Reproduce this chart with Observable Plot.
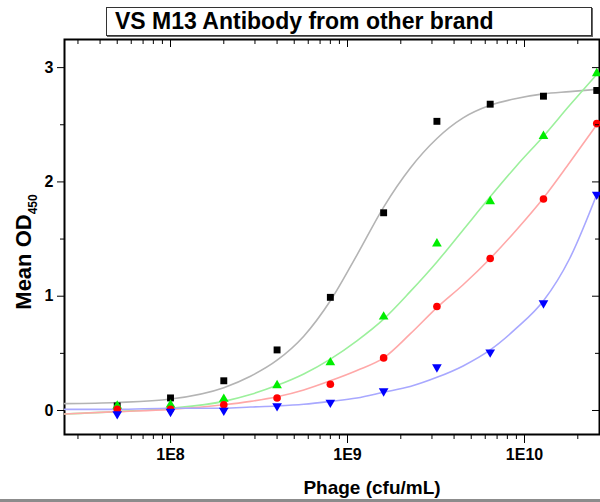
<!DOCTYPE html>
<html>
<head>
<meta charset="utf-8">
<script src="https://cdn.jsdelivr.net/npm/d3@7"></script>
<script src="https://cdn.jsdelivr.net/npm/@observablehq/plot@0.6"></script>
<style>
  body { margin: 0; background: #fff; }
  #wrap { position: relative; width: 600px; height: 502px; overflow: hidden; font-family: "Liberation Sans", Arial, sans-serif; }
  #title { position: absolute; left: 106px; top: 7px; width: 486px; height: 29px; box-sizing: border-box;
           border: 1px solid #333; box-shadow: 1px 1px 0 #666; background: #fff; font-weight: bold;
           font-size: 23px; line-height: 27px; padding-left: 8px; white-space: nowrap; color: #000; }
  #rule { position: absolute; left: 0; top: 499px; width: 600px; height: 3px; background: #8c8c8c; }
</style>
</head>
<body>
<div id="wrap">
  <div id="chart"></div>
  <div id="title">VS M13 Antibody from other brand</div>
  <div id="rule"></div>
</div>
<script>
// Measured points (phage concentration, cfu/mL)
const dose = [5e7, 1e8, 2e8, 4e8, 8e8, 1.6e9, 3.2e9, 6.4e9, 1.28e10, 2.56e10];
const odBlack = [0.04, 0.11, 0.26, 0.53, 0.99, 1.73, 2.53, 2.68, 2.75, 2.80];
const odGreen = [0.04, 0.05, 0.10, 0.22, 0.42, 0.82, 1.46, 1.83, 2.40, 2.95];
const odRed   = [0.01, 0.01, 0.05, 0.11, 0.23, 0.46, 0.91, 1.33, 1.85, 2.51];
const odBlue  = [-0.03, -0.01, 0.00, 0.04, 0.07, 0.17, 0.38, 0.51, 0.94, 1.89];

// Fitted curves
const fitDose  = [2.52e7, 5e7, 1e8, 2e8, 2.83e8, 4e8, 5.66e8, 8e8, 1.13e9, 1.6e9, 2.26e9, 3.2e9, 4.5e9, 6.4e9, 9e9, 1.28e10, 1.8e10, 2.56e10];
const fitBlack = [0.06, 0.07, 0.10, 0.20, 0.30, 0.44, 0.65, 0.96, 1.36, 1.78, 2.12, 2.38, 2.56, 2.67, 2.73, 2.77, 2.79, 2.81];
const fitGreen = [-0.03, -0.01, 0.02, 0.08, 0.14, 0.22, 0.32, 0.45, 0.61, 0.80, 1.04, 1.30, 1.58, 1.87, 2.14, 2.40, 2.67, 2.94];
const fitRed   = [-0.03, -0.01, 0.01, 0.05, 0.08, 0.12, 0.18, 0.26, 0.35, 0.46, 0.67, 0.90, 1.10, 1.33, 1.58, 1.86, 2.17, 2.50];
const fitBlue  = [0.01, 0.01, 0.02, 0.02, 0.03, 0.04, 0.055, 0.08, 0.11, 0.16, 0.21, 0.29, 0.39, 0.53, 0.72, 0.96, 1.33, 1.89];

// Axis ticks
const xMajor = [1e8, 1e9, 1e10];
const xTickLabels = ["1E8", "1E9", "1E10"];
const xMinor = [3e7, 4e7, 5e7, 6e7, 7e7, 8e7, 9e7, 2e8, 3e8, 4e8, 5e8, 6e8, 7e8, 8e8, 9e8,
                2e9, 3e9, 4e9, 5e9, 6e9, 7e9, 8e9, 9e9, 2e10];
const yMajor = [0, 1, 2, 3];
const yMinor = [0.5, 1.5, 2.5];

const series = [
  {key: "black", od: odBlack, fit: fitBlack, fill: "#000000", line: "#b4b4b4", symbol: "square", r: 3.9, rotate: 0},
  {key: "green", od: odGreen, fit: fitGreen, fill: "#00ee00", line: "#9cf09c", symbol: "triangle", r: 3.6, rotate: 0},
  {key: "red",   od: odRed,   fit: fitRed,   fill: "#ff0000", line: "#ffa8a8", symbol: "circle", r: 3.8, rotate: 0},
  {key: "blue",  od: odBlue,  fit: fitBlue,  fill: "#0000ff", line: "#a8a8ff", symbol: "triangle", r: 3.6, rotate: 180}
];

const marks = [Plot.frame({stroke: "black", strokeWidth: 2})];
for (const s of series) {
  const fitRows = fitDose.map((x, i) => ({x, y: s.fit[i]}));
  marks.push(Plot.line(fitRows, {x: "x", y: "y", stroke: s.line, strokeWidth: 1.6, curve: "monotone-x"}));
}
for (const s of series) {
  const rows = dose.map((x, i) => ({x, y: s.od[i]}));
  marks.push(Plot.dot(rows, {x: "x", y: "y", fill: s.fill, stroke: "none", symbol: s.symbol, r: s.r, rotate: s.rotate}));
}
marks.push(
  Plot.axisX({ticks: xMajor, tickSize: 9, tickPadding: 5, fontSize: 16, stroke: "black",
              tickFormat: d => xTickLabels[xMajor.indexOf(d)], label: null}),
  Plot.axisX({ticks: xMinor, tickSize: 5, stroke: "black", fill: "none"}),
  Plot.axisX({anchor: "bottom", frameAnchor: "top", ticks: xMajor, tickSize: 8, stroke: "black", fill: "none"}),
  Plot.axisX({anchor: "bottom", frameAnchor: "top", ticks: xMinor, tickSize: 5, stroke: "black", fill: "none"}),
  Plot.axisY({ticks: yMajor, tickSize: 7, tickPadding: 4, fontSize: 16, stroke: "black",
              tickFormat: d => String(d), label: null}),
  Plot.axisY({ticks: yMinor, tickSize: 4, stroke: "black", fill: "none"}),
  Plot.axisY({anchor: "left", frameAnchor: "right", ticks: yMajor, tickSize: 7, stroke: "black", fill: "none"}),
  Plot.axisY({anchor: "left", frameAnchor: "right", ticks: yMinor, tickSize: 4, stroke: "black", fill: "none"})
);

const chart = Plot.plot({
  width: 600,
  height: 502,
  marginLeft: 64,
  marginRight: 1,
  marginTop: 39,
  marginBottom: 68,
  style: {fontFamily: "'Liberation Sans', Arial, sans-serif", fontWeight: "bold", color: "black", background: "transparent"},
  x: {type: "log", domain: [2.518e7, 2.653e10]},
  y: {domain: [-0.21, 3.246]},
  marks
});
document.getElementById("chart").appendChild(chart);

// Axis titles as real SVG text
const svg = d3.select(chart);
svg.append("text")
  .attr("x", 372).attr("y", 494)
  .attr("text-anchor", "middle")
  .attr("font-size", 19).attr("font-weight", "bold").attr("fill", "black")
  .text("Phage (cfu/mL)");
const yt = svg.append("text")
  .attr("transform", "translate(31,252) rotate(-90)")
  .attr("text-anchor", "middle")
  .attr("font-size", 22).attr("font-weight", "bold").attr("fill", "black");
yt.append("tspan").text("Mean OD");
yt.append("tspan").attr("font-size", 12).attr("dy", 6).text("450");
</script>
</body>
</html>
